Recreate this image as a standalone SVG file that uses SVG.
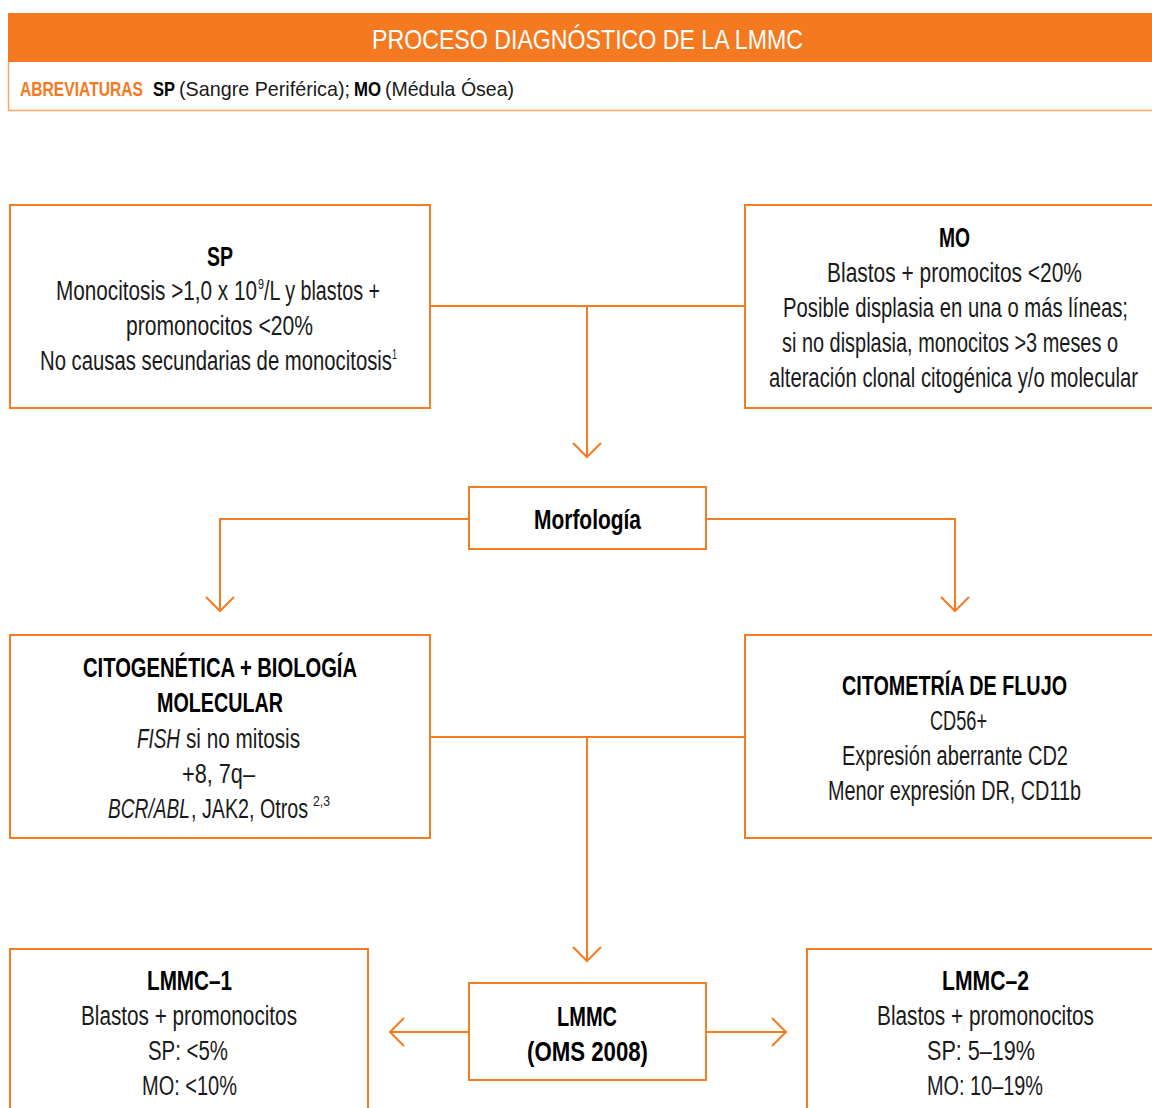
<svg xmlns="http://www.w3.org/2000/svg" width="1152" height="1108" viewBox="0 0 1152 1108">
<defs>
<style>
.box{fill:#fff;stroke:#f47b20;stroke-width:2}
.t{font-family:"Liberation Sans Narrow","Liberation Sans",Arial,sans-serif;font-size:27px;fill:#1a1a1a}
.b{font-weight:bold;fill:#000}
.i{font-style:italic}
.sup{font-size:15px}
.con{fill:none;stroke:#f47b20;stroke-width:2}
.arr{marker-end:url(#chev)}
</style>
<marker id="chev" markerUnits="userSpaceOnUse" viewBox="-16 -16 32 32" markerWidth="32" markerHeight="32" refX="0" refY="0" orient="auto">
<path d="M-14,-14 L0,0 L-14,14" fill="none" stroke="#f47b20" stroke-width="2"/>
</marker>
</defs>
<rect width="1152" height="1108" fill="#fff"/>

<g id="header">
<rect x="8" y="13" width="1146" height="49" fill="#f47920"/>
<text class="t" x="372" y="49" style="font-size:28px;fill:#fff" textLength="431" lengthAdjust="spacingAndGlyphs">PROCESO DIAGNÓSTICO DE LA LMMC</text>
<path d="M8.5,62 V110.5 H1152" fill="none" stroke="#f7a868" stroke-width="1.5"/>
<text class="t b" x="20" y="96" style="font-size:21px;fill:#f47920" textLength="123" lengthAdjust="spacingAndGlyphs">ABREVIATURAS</text>
<text class="t b" x="153" y="96" style="font-size:21px" textLength="22" lengthAdjust="spacingAndGlyphs">SP</text>
<text class="t" x="179" y="96" style="font-size:21px" textLength="171" lengthAdjust="spacingAndGlyphs">(Sangre Periférica);</text>
<text class="t b" x="354" y="96" style="font-size:21px" textLength="27" lengthAdjust="spacingAndGlyphs">MO</text>
<text class="t" x="385" y="96" style="font-size:21px" textLength="129" lengthAdjust="spacingAndGlyphs">(Médula Ósea)</text>
</g>

<g id="connectors">
<path class="con" d="M430,306 H745"/>
<path class="con arr" d="M587,306 V457"/>
<path class="con arr" d="M469,519 H220 V611"/>
<path class="con arr" d="M706,519 H955 V611"/>
<path class="con" d="M430,737 H745"/>
<path class="con arr" d="M587,737 V961"/>
<path class="con arr" d="M469,1032 H390"/>
<path class="con arr" d="M706,1032 H786"/>
</g>

<g id="node-sp">
<rect class="box" x="10" y="205" width="420" height="203"/>
<text class="t b" x="207" y="266" textLength="26" lengthAdjust="spacingAndGlyphs">SP</text>
<text class="t" x="56" y="300" textLength="201" lengthAdjust="spacingAndGlyphs">Monocitosis &gt;1,0 x 10</text>
<text class="t sup" x="258" y="289" textLength="6" lengthAdjust="spacingAndGlyphs">9</text>
<text class="t" x="264" y="300" textLength="116" lengthAdjust="spacingAndGlyphs">/L y blastos +</text>
<text class="t" x="126" y="335" textLength="187" lengthAdjust="spacingAndGlyphs">promonocitos &lt;20%</text>
<text class="t" x="40" y="370" textLength="352" lengthAdjust="spacingAndGlyphs">No causas secundarias de monocitosis</text>
<text class="t sup" x="392" y="359" textLength="5" lengthAdjust="spacingAndGlyphs">1</text>
</g>

<g id="node-mo">
<rect class="box" x="745" y="205" width="420" height="203"/>
<text class="t b" x="939" y="247" textLength="31" lengthAdjust="spacingAndGlyphs">MO</text>
<text class="t" x="827" y="282" textLength="255" lengthAdjust="spacingAndGlyphs">Blastos + promocitos &lt;20%</text>
<text class="t" x="783" y="317" textLength="345" lengthAdjust="spacingAndGlyphs">Posible displasia en una o más líneas;</text>
<text class="t" x="782" y="352" textLength="336" lengthAdjust="spacingAndGlyphs">si no displasia, monocitos &gt;3 meses o</text>
<text class="t" x="769" y="387" textLength="369" lengthAdjust="spacingAndGlyphs">alteración clonal citogénica y/o molecular</text>
</g>

<g id="node-morfologia">
<rect class="box" x="469" y="487" width="237" height="62"/>
<text class="t b" x="534" y="529" textLength="107" lengthAdjust="spacingAndGlyphs">Morfología</text>
</g>

<g id="node-citogenetica">
<rect class="box" x="10" y="635" width="420" height="203"/>
<text class="t b" x="83" y="677" textLength="274" lengthAdjust="spacingAndGlyphs">CITOGENÉTICA + BIOLOGÍA</text>
<text class="t b" x="157" y="712" textLength="126" lengthAdjust="spacingAndGlyphs">MOLECULAR</text>
<text class="t i" x="137" y="748" textLength="43" lengthAdjust="spacingAndGlyphs">FISH</text>
<text class="t" x="186" y="748" textLength="114" lengthAdjust="spacingAndGlyphs">si no mitosis</text>
<text class="t" x="182" y="783" textLength="73" lengthAdjust="spacingAndGlyphs">+8, 7q–</text>
<text class="t i" x="108" y="818" textLength="82" lengthAdjust="spacingAndGlyphs">BCR/ABL</text>
<text class="t" x="191" y="818" textLength="117" lengthAdjust="spacingAndGlyphs">, JAK2, Otros</text>
<text class="t sup" x="313" y="806" textLength="17" lengthAdjust="spacingAndGlyphs">2,3</text>
</g>

<g id="node-citometria">
<rect class="box" x="745" y="635" width="420" height="203"/>
<text class="t b" x="842" y="695" textLength="225" lengthAdjust="spacingAndGlyphs">CITOMETRÍA DE FLUJO</text>
<text class="t" x="930" y="730" textLength="57" lengthAdjust="spacingAndGlyphs">CD56+</text>
<text class="t" x="842" y="765" textLength="226" lengthAdjust="spacingAndGlyphs">Expresión aberrante CD2</text>
<text class="t" x="828" y="800" textLength="253" lengthAdjust="spacingAndGlyphs">Menor expresión DR, CD11b</text>
</g>

<g id="node-lmmc">
<rect class="box" x="469" y="983" width="237" height="97"/>
<text class="t b" x="557" y="1026" textLength="60" lengthAdjust="spacingAndGlyphs">LMMC</text>
<text class="t b" x="527" y="1061" textLength="121" lengthAdjust="spacingAndGlyphs">(OMS 2008)</text>
</g>

<g id="node-lmmc1">
<rect class="box" x="10" y="949" width="358" height="200"/>
<text class="t b" x="147" y="990" textLength="85" lengthAdjust="spacingAndGlyphs">LMMC–1</text>
<text class="t" x="81" y="1025" textLength="216" lengthAdjust="spacingAndGlyphs">Blastos + promonocitos</text>
<text class="t" x="148" y="1060" textLength="80" lengthAdjust="spacingAndGlyphs">SP: &lt;5%</text>
<text class="t" x="142" y="1095" textLength="95" lengthAdjust="spacingAndGlyphs">MO: &lt;10%</text>
</g>

<g id="node-lmmc2">
<rect class="box" x="807" y="949" width="360" height="200"/>
<text class="t b" x="942" y="990" textLength="87" lengthAdjust="spacingAndGlyphs">LMMC–2</text>
<text class="t" x="877" y="1025" textLength="217" lengthAdjust="spacingAndGlyphs">Blastos + promonocitos</text>
<text class="t" x="927" y="1060" textLength="108" lengthAdjust="spacingAndGlyphs">SP: 5–19%</text>
<text class="t" x="927" y="1095" textLength="116" lengthAdjust="spacingAndGlyphs">MO: 10–19%</text>
</g>
</svg>
